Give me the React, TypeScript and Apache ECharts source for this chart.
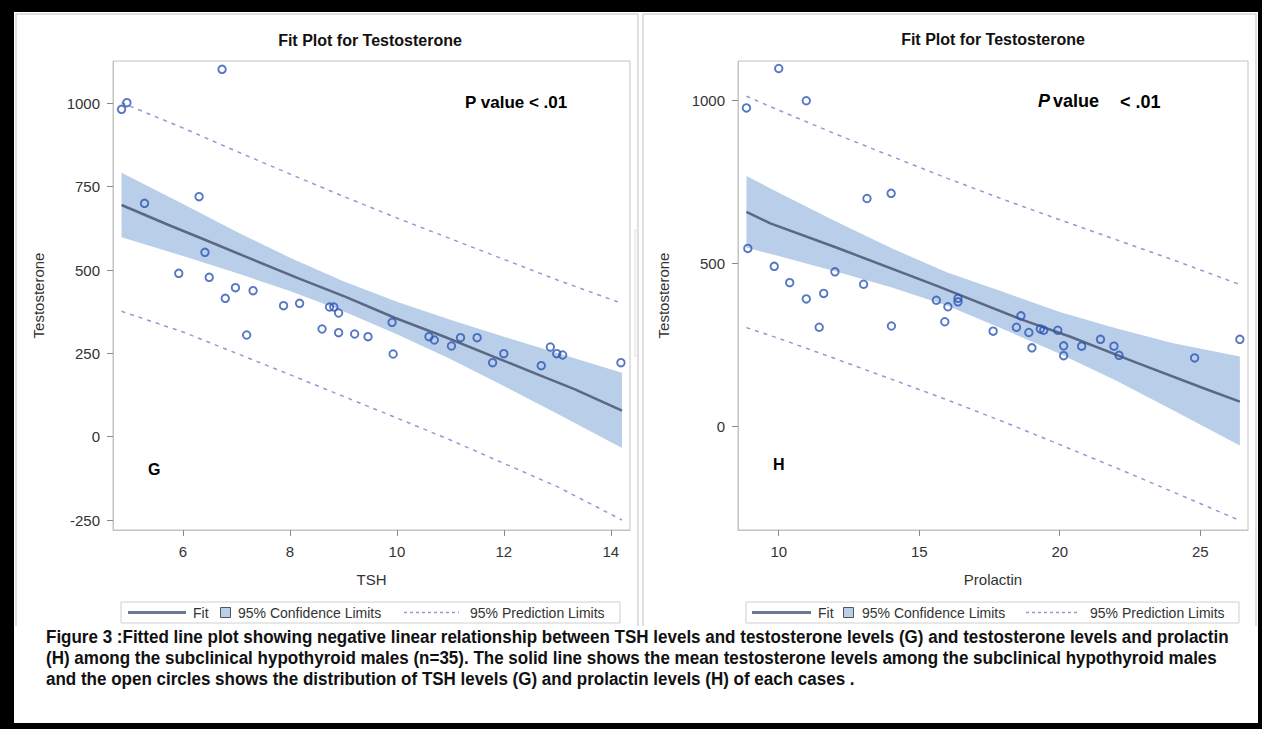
import React, { useEffect, useRef } from 'react';
import * as echarts from 'echarts';

// ---------- Panel G : TSH vs Testosterone ----------
const tshValues = [6.73, 4.85, 4.95, 5.28, 6.30, 6.41, 5.92, 6.49, 6.98, 6.79, 7.31, 7.19, 7.88, 8.18, 8.74, 8.82, 8.91, 8.60, 8.91, 9.21, 9.46, 9.91, 9.93, 10.60, 10.70, 11.02, 11.19, 11.50, 11.79, 12.00, 12.70, 12.87, 12.99, 13.10, 14.19];
const tshTestosterone = [1102, 982, 1002, 700, 720, 553, 490, 478, 447, 415, 438, 305, 393, 400, 389, 389, 371, 323, 312, 308, 300, 343, 248, 300, 290, 272, 297, 297, 222, 249, 213, 269, 249, 245, 222];
const tshFitX = [4.85, 5.73, 6.42, 7.17, 8.16, 9.03, 9.97, 10.90, 11.84, 12.77, 13.33, 14.21];
const tshFitY = [695, 635, 590, 540, 475, 420, 356, 299, 238, 178, 142, 78];
const tshBandX = [4.85, 6, 7, 8, 9, 10, 11, 12, 13, 14.21];
const tshCIUpper = [792, 698, 615, 537, 466, 405, 351, 300, 251, 192];
const tshCILower = [598, 542, 491, 437, 376, 307, 233, 152, 69, -34];
const tshPIUpper = [1002, 926, 856, 788, 721, 656, 594, 532, 470, 400];
const tshPILower = [376, 314, 250, 186, 121, 56, -10, -80, -150, -250];
const tshXTicks = [6, 8, 10, 12, 14];
const tshYTicks = [-250, 0, 250, 500, 750, 1000];

// ---------- Panel H : Prolactin vs Testosterone ----------
const prlValues = [10.00, 8.85, 10.98, 13.14, 14.00, 8.90, 9.84, 10.39, 10.98, 11.60, 12.00, 11.44, 13.02, 14.01, 15.61, 16.02, 16.38, 16.38, 15.91, 17.63, 18.46, 18.62, 18.90, 19.01, 19.31, 19.43, 19.93, 20.14, 20.14, 20.78, 21.45, 21.93, 22.11, 24.80, 26.41];
const prlTestosterone = [1097, 976, 998, 698, 714, 545, 490, 440, 390, 407, 473, 303, 435, 307, 386, 366, 392, 381, 320, 291, 303, 338, 287, 240, 298, 294, 294, 246, 216, 245, 266, 245, 217, 209, 266];
const prlFitX = [8.85, 9.70, 12.07, 15.63, 18.60, 20.38, 22.75, 25.12, 26.41];
const prlFitY = [657, 622, 547, 430, 328, 274, 194, 116, 75];
const prlBandX = [8.85, 10, 12, 14, 16, 18, 20, 22, 24, 26.41];
const prlCIUpper = [767, 716, 629, 546, 471, 411, 350, 300, 255, 213];
const prlCILower = [547, 522, 475, 426, 369, 297, 222, 140, 50, -60];
const prlPIUpper = [1012, 969, 897, 828, 760, 695, 633, 572, 511, 434];
const prlPILower = [302, 269, 207, 144, 80, 13, -57, -128, -201, -290];
const prlXTicks = [10, 15, 20, 25];
const prlYTicks = [0, 500, 1000];

// ---------- Texts ----------
const titleText = 'Fit Plot for Testosterone';
const yName = 'Testosterone';
const xNameG = 'TSH';
const xNameH = 'Prolactin';
const legendLabels = ['Fit', '95% Confidence Limits', '95% Prediction Limits'];
const captionLines = [
  'Figure 3 :Fitted line plot showing negative linear relationship between TSH levels and testosterone levels (G) and testosterone levels and prolactin',
  '(H) among the subclinical hypothyroid males (n=35). The solid line shows the mean testosterone levels among the subclinical hypothyroid males',
  'and the open circles shows the distribution of TSH levels (G) and prolactin levels (H) of each cases .',
];

const FONT = "'Liberation Sans', Arial, sans-serif";
const BAND = '#b9cee8';
const FIT = '#5a6885';
const PRED = '#8e9bd3';
const MARK = '#2d55b5';
const FRAME = '#c3c3c3';
const TXT = '#333333';

function pairs(xs: number[], ys: number[]) {
  return xs.map((x, i) => [x, ys[i]]);
}

const plainNum = (v: number) => String(v);

function xAxisCfg(gi: number, min: number, max: number, ticks: number[], name: string) {
  return {
    type: 'value', gridIndex: gi, min, max, name, nameLocation: 'middle', nameGap: 42,
    nameTextStyle: { fontSize: 15, color: TXT, fontFamily: FONT },
    axisLine: { show: true, onZero: false, lineStyle: { color: FRAME } },
    axisTick: { show: true, length: 6, customValues: ticks, lineStyle: { color: '#8a8a8a' } },
    axisLabel: { customValues: ticks, formatter: plainNum, fontSize: 15, color: TXT, margin: 14, fontFamily: FONT },
    splitLine: { show: false },
  };
}

function yAxisCfg(gi: number, min: number, max: number, ticks: number[]) {
  return {
    type: 'value', gridIndex: gi, min, max, name: yName, nameLocation: 'middle', nameGap: 67,
    nameTextStyle: { fontSize: 15, color: TXT, fontFamily: FONT },
    axisLine: { show: true, onZero: false, lineStyle: { color: FRAME } },
    axisTick: { show: true, length: 6, customValues: ticks, lineStyle: { color: '#8a8a8a' } },
    axisLabel: { customValues: ticks, formatter: plainNum, fontSize: 15, color: TXT, margin: 13, fontFamily: FONT },
    splitLine: { show: false },
  };
}

function panelSeries(gi: number, xs: number[], ys: number[], fx: number[], fy: number[], bx: number[], cu: number[], cl: number[], pu: number[], pl: number[]) {
  return [
    {
      type: 'custom', xAxisIndex: gi, yAxisIndex: gi, z: 1, silent: true,
      data: [[bx[0], cl[0]]],
      renderItem: (_p: any, api: any) => {
        const pts: number[][] = [];
        for (let i = 0; i < bx.length; i++) pts.push(api.coord([bx[i], cu[i]]));
        for (let i = bx.length - 1; i >= 0; i--) pts.push(api.coord([bx[i], cl[i]]));
        return { type: 'polygon', shape: { points: pts }, style: { fill: BAND } };
      },
    },
    {
      type: 'line', xAxisIndex: gi, yAxisIndex: gi, z: 3, silent: true, symbol: 'none',
      data: pairs(bx, pu), lineStyle: { color: PRED, width: 1.5, type: [4, 5] },
    },
    {
      type: 'line', xAxisIndex: gi, yAxisIndex: gi, z: 3, silent: true, symbol: 'none',
      data: pairs(bx, pl), lineStyle: { color: PRED, width: 1.5, type: [4, 5] },
    },
    {
      type: 'line', xAxisIndex: gi, yAxisIndex: gi, z: 4, silent: true, symbol: 'none',
      data: pairs(fx, fy), lineStyle: { color: FIT, width: 2.5 },
    },
    {
      type: 'scatter', xAxisIndex: gi, yAxisIndex: gi, z: 5, silent: true,
      symbol: 'circle', symbolSize: 7.5,
      data: pairs(xs, ys),
      itemStyle: { color: 'rgba(255,255,255,0)', borderColor: MARK, borderWidth: 1.9 },
    },
  ];
}

function txt(text: string, x: number, y: number, size: number, opts: any = {}) {
  return {
    type: 'text', x, y, z: 20, silent: true,
    style: {
      text, fill: opts.fill || TXT, fontSize: size, fontFamily: FONT,
      fontWeight: opts.weight || 'normal', fontStyle: opts.italic ? 'italic' : 'normal',
      align: opts.align || 'left', textAlign: opts.align || 'left',
      verticalAlign: 'middle', textVerticalAlign: 'middle',
    },
  };
}

function legendGraphic(p: { box: number[]; line: number[]; fit: number; sq: number; conf: number; dash: number[]; pred: number }) {
  const cy = 612.5;
  return [
    { type: 'rect', z: 19, silent: true, shape: { x: p.box[0], y: 602, width: p.box[1] - p.box[0], height: 21 }, style: { fill: '#fff', stroke: '#cfcfcf', lineWidth: 1 } },
    { type: 'line', z: 20, silent: true, shape: { x1: p.line[0], y1: cy, x2: p.line[1], y2: cy }, style: { stroke: '#6a7794', lineWidth: 3 } },
    txt(legendLabels[0], p.fit, cy, 14),
    { type: 'rect', z: 20, silent: true, shape: { x: p.sq, y: 607.5, width: 10, height: 10 }, style: { fill: BAND, stroke: '#555', lineWidth: 1 } },
    txt(legendLabels[1], p.conf, cy, 14),
    { type: 'line', z: 20, silent: true, shape: { x1: p.dash[0], y1: cy, x2: p.dash[1], y2: cy }, style: { stroke: PRED, lineWidth: 1.5, lineDash: [3, 3] } },
    txt(legendLabels[2], p.pred, cy, 14),
  ];
}

export default function App() {
  const ref = useRef<HTMLDivElement>(null);
  useEffect(() => {
    if (!ref.current) return;
    const chart = echarts.init(ref.current, undefined, { renderer: 'svg' });
    const option: any = {
      animation: false,
      backgroundColor: '#ffffff',
      title: [
        { text: titleText, left: 370, top: 32, textAlign: 'center', padding: 0, textStyle: { fontSize: 16, fontWeight: 'bold', color: '#111', fontFamily: FONT } },
        { text: titleText, left: 993, top: 31, textAlign: 'center', padding: 0, textStyle: { fontSize: 16, fontWeight: 'bold', color: '#111', fontFamily: FONT } },
      ],
      grid: [
        { left: 113, top: 61, width: 517, height: 469, show: true, borderColor: FRAME, borderWidth: 1, backgroundColor: '#fff', containLabel: false, outerBoundsMode: 'none' },
        { left: 738, top: 61, width: 510, height: 469, show: true, borderColor: FRAME, borderWidth: 1, backgroundColor: '#fff', containLabel: false, outerBoundsMode: 'none' },
      ],
      xAxis: [
        xAxisCfg(0, 4.69, 14.36, tshXTicks, xNameG),
        xAxisCfg(1, 8.55, 26.70, prlXTicks, xNameH),
      ],
      yAxis: [
        yAxisCfg(0, -280, 1127, tshYTicks),
        yAxisCfg(1, -319, 1120, prlYTicks),
      ],
      series: [
        ...panelSeries(0, tshValues, tshTestosterone, tshFitX, tshFitY, tshBandX, tshCIUpper, tshCILower, tshPIUpper, tshPILower),
        ...panelSeries(1, prlValues, prlTestosterone, prlFitX, prlFitY, prlBandX, prlCIUpper, prlCILower, prlPIUpper, prlPILower),
      ],
      graphic: [
        // panel outlines
        { type: 'polyline', z: 0, silent: true, shape: { points: [[16, 626], [16, 14], [638, 14], [638, 626]] }, style: { fill: 'none', stroke: '#d6d6d6', lineWidth: 1.5 } },
        { type: 'polyline', z: 0, silent: true, shape: { points: [[643, 626], [643, 14], [1256, 14], [1256, 626]] }, style: { fill: 'none', stroke: '#d6d6d6', lineWidth: 1.5 } },
        { type: 'rect', z: 0, silent: true, shape: { x: 635, y: 230, width: 3, height: 126 }, style: { fill: 'none', stroke: '#dddddd', lineWidth: 1 } },
        // annotations
        txt('P value < .01', 465, 102, 17, { weight: 'bold', fill: '#000' }),
        txt('P', 1038, 101, 18, { weight: 'bold', italic: true, fill: '#000' }),
        txt('value', 1053, 101, 18, { weight: 'bold', fill: '#000' }),
        txt('< .01', 1120, 102, 18, { weight: 'bold', fill: '#000' }),
        txt('G', 148, 469, 16, { weight: 'bold', fill: '#000' }),
        txt('H', 773, 464, 16, { weight: 'bold', fill: '#000' }),
        // legends
        ...legendGraphic({ box: [121, 620], line: [128, 186], fit: 193, sq: 220.5, conf: 238, dash: [404, 459], pred: 470 }),
        ...legendGraphic({ box: [746, 1239], line: [752, 811], fit: 818, sq: 843.5, conf: 862, dash: [1026, 1078], pred: 1090 }),
        // caption
        {
          type: 'group', x: 46, y: 0, scaleX: 0.945, z: 20, silent: true,
          children: captionLines.map((t, i) => txt(t, 0, 637 + i * 21, 18, { weight: 'bold', fill: '#111' })),
        },
        // black frame
        { type: 'rect', z: 30, silent: true, shape: { x: 0, y: 0, width: 1262, height: 12 }, style: { fill: '#000' } },
        { type: 'rect', z: 30, silent: true, shape: { x: 0, y: 0, width: 14, height: 729 }, style: { fill: '#000' } },
        { type: 'rect', z: 30, silent: true, shape: { x: 1258, y: 0, width: 4, height: 729 }, style: { fill: '#000' } },
        { type: 'rect', z: 30, silent: true, shape: { x: 0, y: 723, width: 1262, height: 6 }, style: { fill: '#000' } },
      ],
    };
    chart.setOption(option);
    return () => chart.dispose();
  }, []);
  return <div ref={ref} style={{ position: 'absolute', left: 0, top: 0, width: 1262, height: 729 }} />;
}
